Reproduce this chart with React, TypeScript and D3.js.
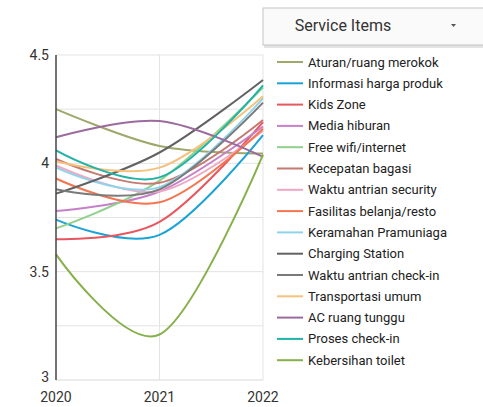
import React from "react";
import * as d3 from "d3";

const years = [2020, 2021, 2022];
const yTicks = [3, 3.5, 4, 4.5];
const gridTicks = [3.25, 3.5, 3.75, 4, 4.25, 4.5];
const seriesNames = [
  "Aturan/ruang merokok",
  "Informasi harga produk",
  "Kids Zone",
  "Media hiburan",
  "Free wifi/internet",
  "Kecepatan bagasi",
  "Waktu antrian security",
  "Fasilitas belanja/resto",
  "Keramahan Pramuniaga",
  "Charging Station",
  "Waktu antrian check-in",
  "Transportasi umum",
  "AC ruang tunggu",
  "Proses check-in",
  "Kebersihan toilet",
];
const aturan = [4.25, 4.08, 4.045];
const informasi = [3.74, 3.67, 4.13];
const kidsZone = [3.65, 3.73, 4.19];
const mediaHiburan = [3.78, 3.87, 4.17];
const freeWifi = [3.7, 3.92, 4.35];
const kecepatanBagasi = [4.02, 3.91, 4.2];
const waktuSecurity = [3.99, 3.87, 4.15];
const fasilitas = [3.93, 3.82, 4.16];
const keramahan = [3.98, 3.89, 4.3];
const charging = [3.86, 4.05, 4.385];
const waktuCheckin = [3.88, 3.88, 4.28];
const transportasi = [4.01, 3.98, 4.31];
const acRuang = [4.12, 4.195, 4.03];
const prosesCheckin = [4.06, 3.935, 4.36];
const kebersihan = [3.58, 3.21, 4.04];
const seriesValues = [
  aturan, informasi, kidsZone, mediaHiburan, freeWifi, kecepatanBagasi,
  waktuSecurity, fasilitas, keramahan, charging, waktuCheckin, transportasi,
  acRuang, prosesCheckin, kebersihan,
];
const colors = [
  "#9fa86a", "#1aa3d6", "#e8565e", "#c680c8", "#8fd08c", "#c47a70",
  "#efa7c4", "#f4754f", "#8fd3ea", "#626262", "#7a7a7a", "#f5c27e",
  "#9b6a9e", "#1fb3a8", "#86b04a",
];

export default function App() {
  const W = 483, H = 407;
  const x = d3.scaleLinear().domain([2020, 2022]).range([56, 263]);
  const y = d3.scaleLinear().domain([3, 4.5]).range([380, 55]);
  const line = d3
    .line<number>()
    .x((_, i) => x(years[i]))
    .y((d) => y(d))
    .curve(d3.curveCardinal.tension(0));
  const font = "Roboto, 'Noto Sans', sans-serif";
  return (
    <svg width={W} height={H} style={{ position: "absolute", left: 0, top: 0 }} fontFamily={font}>
      <rect width={W} height={H} fill="#fff" />
      {/* dropdown */}
      <rect x={264} y={11} width={230} height={37} fill="#d0d0d0" opacity={0.6} />
      <rect x={263} y={8} width={230} height={37} fill="#fafafa" stroke="#c4c4c4" strokeWidth={1} />
      <text x={343} y={31} fontSize={16} fill="#333" textAnchor="middle">Service Items</text>
      <path d="M451,24 L456,24 L453.5,27 Z" fill="#555" />
      {/* grid */}
      {gridTicks.map((t) => (
        <line key={t} x1={x(2020)} x2={x(2022)} y1={y(t)} y2={y(t)} stroke="#e3e3e3" strokeWidth={1} />
      ))}
      {years.slice(1).map((yr) => (
        <line key={yr} x1={x(yr)} x2={x(yr)} y1={y(4.5)} y2={y(3)} stroke="#e3e3e3" strokeWidth={1} />
      ))}
      <line x1={x(2020)} x2={x(2022)} y1={y(3)} y2={y(3)} stroke="#d8d8d8" strokeWidth={1} />
      {/* series */}
      {seriesValues.map((vals, i) => (
        <path key={i} d={line(vals) || ""} fill="none" stroke={colors[i]} strokeWidth={2} />
      ))}
      {/* axis */}
      <line x1={x(2020)} x2={x(2020)} y1={y(4.5)} y2={y(3)} stroke="#444" strokeWidth={1.5} />
      {yTicks.map((t) => (
        <text key={t} x={49} y={y(t) + (t === 3 ? 2 : 5)} fontSize={14} fill="#333" textAnchor="end">
          {d3.format("~g")(t)}
        </text>
      ))}
      {years.map((yr) => (
        <text key={yr} x={x(yr)} y={402} fontSize={14} fill="#333" textAnchor="middle">
          {yr}
        </text>
      ))}
      {/* legend */}
      {seriesNames.map((name, i) => {
        const ly = 62 + i * 21.3;
        return (
          <g key={name}>
            <line x1={277} x2={303} y1={ly} y2={ly} stroke={colors[i]} strokeWidth={2} />
            <text x={308} y={ly + 4.5} fontSize={13} fill="#222">{name}</text>
          </g>
        );
      })}
    </svg>
  );
}
